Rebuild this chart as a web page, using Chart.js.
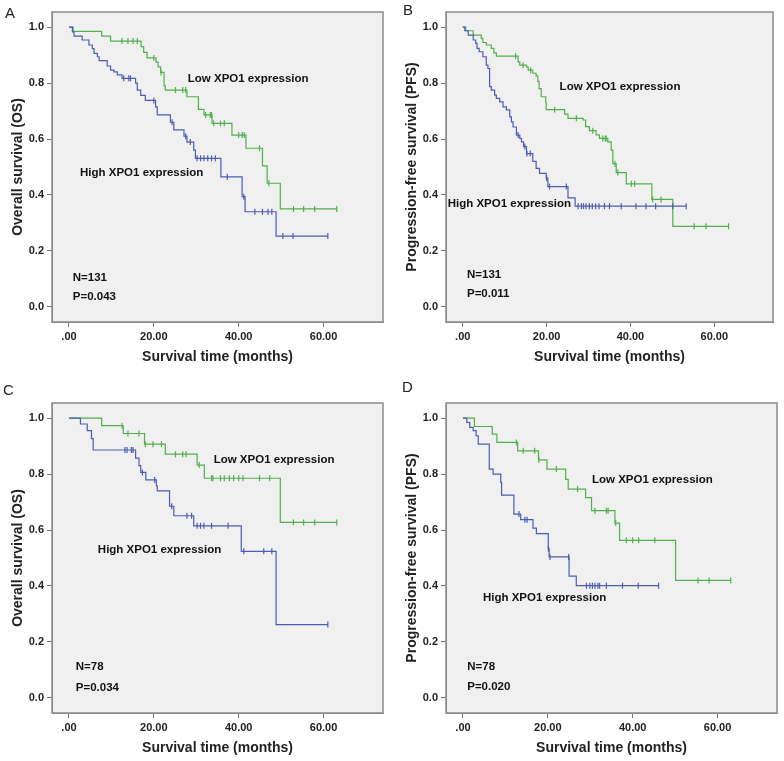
<!DOCTYPE html>
<html>
<head>
<meta charset="utf-8">
<title>XPO1 expression and survival</title>
<script src="https://cdn.jsdelivr.net/npm/chart.js"></script>
<style>
  body { margin: 0; background: #fff; width: 784px; height: 761px; position: relative; overflow: hidden; font-family: 'Liberation Sans', Arial, sans-serif; }
  canvas { position: absolute; }
  .tag { position: absolute; font-size: 15px; line-height: 1; color: #222; }
</style>
</head>
<body>
<canvas id="panelA" width="392" height="380" style="left:0;top:0"></canvas>
<canvas id="panelB" width="392" height="380" style="left:392px;top:0"></canvas>
<canvas id="panelC" width="392" height="380" style="left:0;top:391px"></canvas>
<canvas id="panelD" width="392" height="380" style="left:392px;top:391px"></canvas>
<div class="tag" style="left:5px;top:5px">A</div>
<div class="tag" style="left:403px;top:2px">B</div>
<div class="tag" style="left:3px;top:382px">C</div>
<div class="tag" style="left:402px;top:379px">D</div>
<script>
// event times (months) and survival after each event, plus censor times
const aLowT = [1.0, 7.7, 9.8, 17.0, 17.6, 18.4, 20.5, 21.0, 21.6, 22.4, 22.7, 27.8, 30.5, 31.8, 33.7, 38.4, 41.7, 45.6, 46.7, 49.8];
const aLowS = [0.985, 0.968, 0.95, 0.93, 0.91, 0.89, 0.875, 0.858, 0.838, 0.79, 0.775, 0.751, 0.706, 0.686, 0.656, 0.614, 0.567, 0.504, 0.442, 0.35];
const aLowCens = [12.5, 13.9, 15.1, 16.1, 20.0, 21.7, 25.1, 26.8, 27.5, 32.2, 33.3, 33.6, 34.1, 35.7, 36.6, 40.0, 40.8, 41.3, 44.9, 47.1, 52.9, 55.3, 57.9, 63.1];
const aHighT = [0.8, 1.2, 3.1, 4.7, 5.5, 5.9, 6.7, 7.1, 9.0, 9.8, 10.6, 11.4, 12.5, 15.7, 16.1, 16.9, 18.0, 20.4, 20.8, 23.9, 24.7, 27.1, 27.8, 29.4, 29.8, 35.8, 40.8, 41.5, 48.8];
const aHighS = [0.983, 0.968, 0.954, 0.936, 0.923, 0.906, 0.894, 0.88, 0.861, 0.846, 0.84, 0.829, 0.817, 0.8, 0.775, 0.756, 0.738, 0.715, 0.686, 0.66, 0.633, 0.61, 0.589, 0.56, 0.531, 0.465, 0.394, 0.34, 0.253];
const aHighCens = [12.9, 14.1, 14.5, 20.0, 24.3, 27.5, 28.6, 30.2, 31.0, 31.8, 32.7, 33.6, 34.5, 37.3, 41.2, 43.8, 45.6, 46.9, 47.8, 50.4, 52.8, 61.0];

const bLowT = [0.7, 2.5, 4.4, 4.8, 5.6, 6.8, 7.4, 8.0, 13.2, 13.6, 15.2, 15.6, 16.7, 17.5, 17.9, 18.2, 18.7, 19.8, 19.9, 24.3, 25.1, 28.7, 29.3, 30.2, 31.8, 32.6, 34.6, 35.4, 35.8, 36.6, 39.0, 45.1, 50.1];
const bLowS = [0.987, 0.971, 0.96, 0.945, 0.936, 0.924, 0.908, 0.896, 0.876, 0.864, 0.858, 0.846, 0.835, 0.826, 0.806, 0.78, 0.751, 0.73, 0.705, 0.689, 0.674, 0.668, 0.644, 0.63, 0.615, 0.602, 0.59, 0.56, 0.512, 0.48, 0.44, 0.384, 0.288];
const bLowCens = [12.6, 14.4, 16.2, 21.9, 27.1, 31.0, 33.4, 34.0, 34.2, 36.3, 37.0, 40.2, 41.0, 45.3, 47.3, 55.2, 58.0, 63.4];
const bHighT = [0.5, 1.3, 2.5, 3.1, 3.4, 3.9, 4.8, 5.6, 6.0, 6.4, 6.8, 7.6, 8.0, 8.8, 9.6, 10.4, 11.2, 11.6, 12.0, 12.8, 13.6, 14.0, 14.5, 15.2, 16.7, 17.5, 18.3, 19.9, 20.3, 25.1, 26.8];
const bHighS = [0.987, 0.971, 0.954, 0.942, 0.924, 0.912, 0.894, 0.864, 0.852, 0.787, 0.775, 0.757, 0.745, 0.733, 0.715, 0.704, 0.679, 0.661, 0.643, 0.614, 0.602, 0.59, 0.573, 0.548, 0.52, 0.495, 0.477, 0.46, 0.43, 0.39, 0.36];
const bHighCens = [13.2, 14.8, 15.3, 16.1, 20.0, 20.7, 24.7, 27.5, 28.3, 28.8, 29.4, 30.2, 30.9, 31.7, 32.5, 33.8, 35.0, 37.8, 41.3, 43.7, 46.0, 50.1, 53.3];

const cLowT = [7.7, 12.8, 17.8, 22.7, 30.2, 31.9, 49.8];
const cLowS = [0.973, 0.945, 0.907, 0.871, 0.832, 0.785, 0.627];
const cLowCens = [12.5, 13.9, 16.5, 18.0, 19.8, 21.8, 25.1, 26.8, 27.6, 30.7, 33.6, 33.9, 35.7, 36.6, 37.8, 38.8, 40.0, 41.0, 44.9, 47.3, 52.9, 55.3, 57.9, 63.1];
const cHighT = [2.7, 4.3, 5.3, 5.7, 15.7, 16.5, 16.9, 18.1, 20.6, 20.8, 23.7, 24.7, 29.4, 40.6, 48.8];
const cHighS = [0.979, 0.955, 0.927, 0.886, 0.857, 0.83, 0.806, 0.779, 0.758, 0.74, 0.685, 0.651, 0.615, 0.524, 0.262];
const cHighCens = [13.2, 13.7, 14.7, 15.1, 17.3, 20.2, 24.2, 27.8, 28.9, 30.2, 31.0, 31.8, 33.6, 37.5, 41.2, 45.9, 47.8, 61.0];

const dLowT = [2.7, 6.9, 8.0, 12.9, 17.8, 19.8, 24.2, 24.8, 28.9, 30.3, 35.8, 36.9, 50.1];
const dLowS = [0.97, 0.943, 0.913, 0.883, 0.851, 0.818, 0.781, 0.746, 0.716, 0.669, 0.625, 0.563, 0.42];
const dLowCens = [12.6, 14.2, 16.9, 17.9, 22.0, 27.0, 31.1, 33.8, 34.2, 36.0, 38.5, 40.0, 41.4, 45.2, 55.4, 58.0, 63.1];
const dHighT = [0.9, 1.6, 2.4, 3.1, 3.6, 6.2, 7.1, 8.9, 9.1, 12.0, 13.6, 16.5, 17.3, 20.1, 20.3, 25.0, 26.7];
const dHighS = [0.985, 0.967, 0.955, 0.937, 0.907, 0.818, 0.8, 0.77, 0.725, 0.657, 0.637, 0.607, 0.587, 0.533, 0.504, 0.435, 0.401];
const dHighCens = [13.2, 14.6, 15.1, 20.15, 20.5, 24.9, 29.1, 29.9, 30.5, 31.1, 31.8, 32.2, 33.8, 37.6, 41.3, 46.1];

const xTicks = [0, 20, 40, 60];
const yTicks = [0, 0.2, 0.4, 0.6, 0.8, 1.0];

const GREEN = '#52b04c';
const BLUE = '#4c5db3';
Chart.defaults.font.family = "'Liberation Sans', Arial, sans-serif";
Chart.defaults.color = '#222';

function stepPoints(t, s, cens) {
    const end = Math.max(cens[cens.length - 1], t[t.length - 1]);
    const pts = [{x: 0, y: 1}];
    t.forEach((v, i) => pts.push({x: v, y: s[i]}));
    pts.push({x: end, y: s[s.length - 1]});
    return pts;
}

function survAt(t, s, time) {
    let v = 1;
    t.forEach((ti, i) => { if (ti <= time) v = s[i]; });
    return v;
}

function censorPoints(t, s, cens) {
    return cens.map(c => ({x: c, y: survAt(t, s, c)}));
}

const boxAndText = {
    id: 'boxAndText',
    beforeDraw(chart) {
        const a = chart.chartArea, ctx = chart.ctx;
        ctx.save();
        ctx.fillStyle = '#f0f0f0';
        ctx.fillRect(a.left, a.top, a.right - a.left, a.bottom - a.top);
        ctx.restore();
    },
    afterDraw(chart, args, opts) {
        const a = chart.chartArea, ctx = chart.ctx;
        const xs = chart.scales.x, ys = chart.scales.y;
        ctx.save();
        ctx.strokeStyle = '#8a8a8a';
        ctx.lineWidth = 1.5;
        ctx.strokeRect(a.left, a.top, a.right - a.left, a.bottom - a.top);
        ctx.fillStyle = '#111';
        ctx.textBaseline = 'middle';
        ctx.textAlign = 'left';
        ctx.font = "bold 11.5px 'Liberation Sans', Arial, sans-serif";
        opts.items.forEach(it => {
            ctx.fillText(it.text, xs.getPixelForValue(it.x), ys.getPixelForValue(it.y));
        });
        ctx.restore();
    }
};

function makePanel(cfg) {
    const ctx = document.getElementById(cfg.id).getContext('2d');
    new Chart(ctx, {
        type: 'line',
        data: {
            datasets: [
                {data: stepPoints(cfg.highT, cfg.highS, cfg.highC), borderColor: BLUE, borderWidth: 1.2, stepped: true, pointRadius: 0, fill: false},
                {data: censorPoints(cfg.highT, cfg.highS, cfg.highC), showLine: false, borderColor: BLUE, borderWidth: 1.2, pointStyle: 'line', rotation: 90, pointRadius: 3},
                {data: stepPoints(cfg.lowT, cfg.lowS, cfg.lowC), borderColor: GREEN, borderWidth: 1.2, stepped: true, pointRadius: 0, fill: false},
                {data: censorPoints(cfg.lowT, cfg.lowS, cfg.lowC), showLine: false, borderColor: GREEN, borderWidth: 1.2, pointStyle: 'line', rotation: 90, pointRadius: 3}
            ]
        },
        options: {
            responsive: false,
            animation: false,
            devicePixelRatio: 1,
            layout: {padding: {left: 0, top: 12, right: cfg.padRight, bottom: 0}},
            plugins: {
                legend: {display: false},
                tooltip: {enabled: false},
                boxAndText: {items: cfg.texts}
            },
            scales: {
                x: {
                    type: 'linear', min: -4, max: 74,
                    afterBuildTicks: s => { s.ticks = xTicks.map(v => ({value: v})); },
                    afterFit: s => { s.height = 58; },
                    grid: {drawOnChartArea: false, drawTicks: true, tickLength: 5, color: '#777'},
                    border: {color: '#8a8a8a'},
                    ticks: {font: {size: 11, weight: 'bold'}, padding: 3, maxRotation: 0,
                            callback: v => v === 0 ? '.00' : v.toFixed(2)},
                    title: {display: true, text: 'Survival time (months)', font: {size: 14, weight: 'bold'}, padding: {top: 0, bottom: 14}}
                },
                y: {
                    type: 'linear', min: -0.054, max: 1.054,
                    afterBuildTicks: s => { s.ticks = yTicks.map(v => ({value: v})); },
                    afterFit: s => { s.width = cfg.padLeft; },
                    grid: {drawOnChartArea: false, drawTicks: true, tickLength: 5, color: '#777'},
                    border: {color: '#8a8a8a'},
                    ticks: {font: {size: 11, weight: 'bold'}, padding: 3, callback: v => v.toFixed(1)},
                    title: {display: true, text: cfg.yTitle, font: {size: 14, weight: 'bold'}, padding: {top: cfg.titlePad, bottom: 0}}
                }
            }
        },
        plugins: [boxAndText]
    });
}

makePanel({id: 'panelA', yTitle: 'Overall survival (OS)', padLeft: 52, padRight: 9, titlePad: 10,
    lowT: aLowT, lowS: aLowS, lowC: aLowCens, highT: aHighT, highS: aHighS, highC: aHighCens,
    texts: [{text: 'Low XPO1 expression', x: 28.0, y: 0.814}, {text: 'High XPO1 expression', x: 2.6, y: 0.479},
            {text: 'N=131', x: 0.9, y: 0.104}, {text: 'P=0.043', x: 0.9, y: 0.036}]});
makePanel({id: 'panelB', yTitle: 'Progression-free survival (PFS)', padLeft: 54, padRight: 11, titlePad: 12,
    lowT: bLowT, lowS: bLowS, lowC: bLowCens, highT: bHighT, highS: bHighS, highC: bHighCens,
    texts: [{text: 'Low XPO1 expression', x: 23.1, y: 0.786}, {text: 'High XPO1 expression', x: -3.6, y: 0.368},
            {text: 'N=131', x: 1.0, y: 0.114}, {text: 'P=0.011', x: 1.0, y: 0.046}]});
makePanel({id: 'panelC', yTitle: 'Overall survival (OS)', padLeft: 52, padRight: 9, titlePad: 10,
    lowT: cLowT, lowS: cLowS, lowC: cLowCens, highT: cHighT, highS: cHighS, highC: cHighCens,
    texts: [{text: 'Low XPO1 expression', x: 34.1, y: 0.85}, {text: 'High XPO1 expression', x: 6.8, y: 0.529},
            {text: 'N=78', x: 1.6, y: 0.11}, {text: 'P=0.034', x: 1.6, y: 0.036}]});
makePanel({id: 'panelD', yTitle: 'Progression-free survival (PFS)', padLeft: 54, padRight: 7, titlePad: 12,
    lowT: dLowT, lowS: dLowS, lowC: dLowCens, highT: dHighT, highS: dHighS, highC: dHighCens,
    texts: [{text: 'Low XPO1 expression', x: 30.4, y: 0.779}, {text: 'High XPO1 expression', x: 4.7, y: 0.357},
            {text: 'N=78', x: 1.0, y: 0.11}, {text: 'P=0.020', x: 1.0, y: 0.039}]});
</script>
</body>
</html>
